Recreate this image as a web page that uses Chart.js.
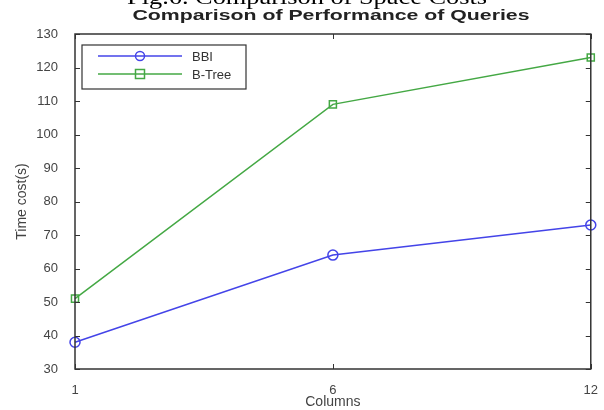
<!DOCTYPE html>
<html><head><meta charset="utf-8">
<script src="https://cdn.jsdelivr.net/npm/chart.js@4/dist/chart.umd.min.js"></script>
<style>html,body{margin:0;padding:0;background:#fff}#wrap{width:604px;height:410px}</style>
</head><body><div id="wrap"><canvas id="c" width="604" height="410"></canvas></div>
<script>
const columns = ['1', '6', '12'];
const bbiTimes = [38, 64, 73];
const btreeTimes = [51, 109, 123];
const seriesNames = ['BBI', 'B-Tree'];
const yMin = 30, yMax = 130, yStep = 10;
const figCaption = 'Fig.6. Comparison of Space Costs';
const chartTitle = 'Comparison of Performance of Queries';
const xTitle = 'Columns';
const yTitle = 'Time cost(s)';

function stretchedText(ctx, text, font, cx, baseY, targetW, color) {
  ctx.save();
  ctx.font = font;
  ctx.fillStyle = color;
  ctx.textBaseline = 'alphabetic';
  ctx.textAlign = 'left';
  const w = ctx.measureText(text).width;
  const sx = targetW / w;
  ctx.translate(cx - targetW / 2, baseY);
  ctx.scale(sx, 1);
  ctx.fillText(text, 0, 0);
  ctx.restore();
}

const decor = {
  id: 'decor',
  afterDraw(chart) {
    const ctx = chart.ctx;
    const a = chart.chartArea;
    const xs = chart.scales.x, ys = chart.scales.y;
    // texts
    stretchedText(ctx, figCaption, '20px "Liberation Serif"', 307, 4, 360, '#000');
    stretchedText(ctx, chartTitle, 'bold 15px "Liberation Sans"', 331, 20, 397, '#222');
    // frame
    ctx.save();
    ctx.strokeStyle = '#333';
    ctx.lineWidth = 1.5;
    ctx.strokeRect(a.left, a.top, a.right - a.left, a.bottom - a.top);
    ctx.lineWidth = 1;
    const tl = 5;
    ys.ticks.forEach(t => {
      const y = Math.round(ys.getPixelForValue(t.value)) + 0.5;
      ctx.beginPath();
      ctx.moveTo(a.left, y); ctx.lineTo(a.left + tl, y);
      ctx.moveTo(a.right, y); ctx.lineTo(a.right - tl, y);
      ctx.stroke();
    });
    xs.ticks.forEach((t, i) => {
      const x = Math.round(xs.getPixelForTick(i)) + 0.5;
      ctx.beginPath();
      ctx.moveTo(x, a.bottom); ctx.lineTo(x, a.bottom - tl);
      ctx.moveTo(x, a.top); ctx.lineTo(x, a.top + tl);
      ctx.stroke();
    });
    // legend
    const lx = a.left + 7, ly = a.top + 11, lw = 164, lh = 44;
    ctx.fillStyle = '#fff';
    ctx.fillRect(lx, ly, lw, lh);
    ctx.strokeStyle = '#333';
    ctx.lineWidth = 1.2;
    ctx.strokeRect(lx, ly, lw, lh);
    chart.data.datasets.forEach((ds, i) => {
      const y = ly + 11 + i * 18;
      ctx.strokeStyle = ds.borderColor;
      ctx.lineWidth = 1.5;
      ctx.beginPath();
      ctx.moveTo(lx + 16, y); ctx.lineTo(lx + 100, y);
      ctx.stroke();
      const mx = lx + 58;
      ctx.beginPath();
      if (ds.pointStyle === 'rect') {
        ctx.rect(mx - 4.5, y - 4.5, 9, 9);
      } else {
        ctx.arc(mx, y, 4.5, 0, Math.PI * 2);
      }
      ctx.stroke();
      ctx.fillStyle = '#333';
      ctx.font = '13px "Liberation Sans"';
      ctx.textBaseline = 'middle';
      ctx.textAlign = 'left';
      ctx.fillText(ds.label, lx + 110, y + 1);
    });
    ctx.restore();
  }
};

new Chart(document.getElementById('c'), {
  type: 'line',
  data: {
    labels: columns,
    datasets: [
      { label: seriesNames[0], data: bbiTimes, borderColor: '#4444e8', backgroundColor: 'rgba(0,0,0,0)',
        borderWidth: 1.5, pointStyle: 'circle', pointRadius: 5, pointBorderWidth: 1.5,
        pointBackgroundColor: 'rgba(0,0,0,0)', tension: 0, clip: false },
      { label: seriesNames[1], data: btreeTimes, borderColor: '#44a844', backgroundColor: 'rgba(0,0,0,0)',
        borderWidth: 1.5, pointStyle: 'rect', pointRadius: 5, pointBorderWidth: 1.5,
        pointBackgroundColor: 'rgba(0,0,0,0)', tension: 0, clip: false }
    ]
  },
  options: {
    responsive: false,
    animation: false,
    devicePixelRatio: 1,
    layout: { padding: { top: 34, right: 12, bottom: 0, left: 0 } },
    plugins: { legend: { display: false }, title: { display: false }, tooltip: { enabled: false } },
    scales: {
      x: {
        type: 'category', offset: false,
        grid: { display: false }, border: { display: false },
        ticks: { color: '#444', font: { family: 'Liberation Sans', size: 13 }, padding: 6, maxRotation: 0 },
        title: { display: true, text: xTitle, color: '#444', font: { family: 'Liberation Sans', size: 14 }, padding: { top: 0, bottom: -1 } },
        afterFit(s) { s.height = 41; }
      },
      y: {
        min: yMin, max: yMax,
        grid: { display: false }, border: { display: false },
        ticks: { stepSize: yStep, color: '#444', font: { family: 'Liberation Sans', size: 13 }, padding: 9 },
        title: { display: true, text: yTitle, color: '#444', font: { family: 'Liberation Sans', size: 14 }, padding: { top: 14, bottom: 0 } },
        afterFit(s) { s.width = 75; }
      }
    }
  },
  plugins: [decor]
});
</script>
</body></html>
